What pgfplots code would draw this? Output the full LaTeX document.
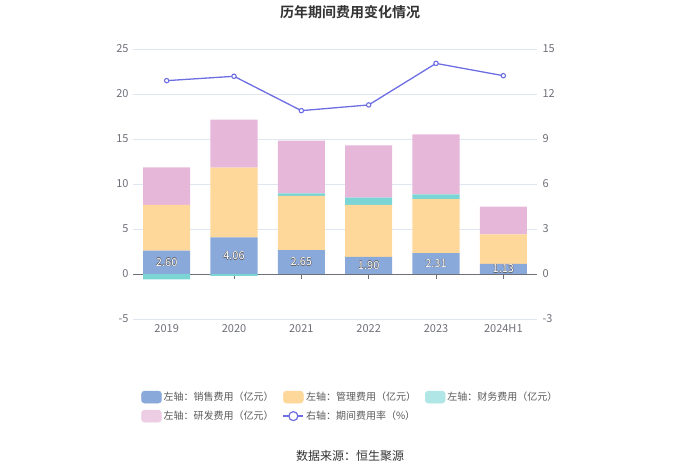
\documentclass[border=0pt]{standalone}
\usepackage{fontspec}
\setmainfont{Noto Sans CJK SC}[BoldFont={Noto Sans CJK SC Bold}]
\usepackage{pgfplots}
\usepackage{pgfplotstable}
\pgfplotsset{compat=1.18}

\definecolor{salesc}{RGB}{138,169,219}
\definecolor{mgmtc}{RGB}{254,216,154}
\definecolor{finc}{RGB}{124,213,213}
\definecolor{rdc}{RGB}{230,183,216}
\definecolor{linec}{RGB}{108,110,226}
\definecolor{gridc}{RGB}{224,230,241}
\definecolor{tickc}{RGB}{110,112,121}
\definecolor{titlec}{RGB}{51,51,51}
\definecolor{legtext}{RGB}{90,90,90}
\definecolor{labdark}{RGB}{95,95,100}

\pgfplotstableread{
x sales mgmt finpos finneg rd rate
0 2.60 5.07 0    -0.59 4.18 12.89
1 4.06 7.75 0    -0.20 5.34 13.18
2 2.65 6.02 0.29 0     5.85 10.89
3 1.90 5.77 0.81 0     5.82 11.27
4 2.31 6.02 0.52 0     6.67 14.04
5 1.13 3.28 0    0     3.07 13.22
}\datatable

\newcommand\halotext[1]{%
\makebox[0pt]{\color{labdark}\kern0.8pt #1}%
\makebox[0pt]{\color{labdark}\kern-0.8pt #1}%
\makebox[0pt]{\color{labdark}\raisebox{0.4pt}{#1}}%
\makebox[0pt]{\color{labdark}\raisebox{-0.4pt}{#1}}%
\makebox[0pt]{\color{white}#1}}

\pgfplotsset{
  common/.style={
    at={(133pt,154pt)}, anchor=south west, scale only axis,
    width=404pt, height=270pt,
    xmin=-0.5, xmax=5.5,
    axis line style={draw=none},
    major tick length=0pt,
    tick label style={font=\fontsize{11}{11}\selectfont, color=tickc},
    /pgf/number format/assume math mode=true,
  }
}

\begin{document}
\begin{tikzpicture}[x=1pt,y=1pt]
\path[use as bounding box] (0,0) rectangle (700,473);

% background axis: grid, left ticks, category labels, zero line, negative finance bars
\begin{axis}[common,
  ymin=-5, ymax=25, ytick={-5,0,...,25},
  ymajorgrids, grid style={color=gridc, line width=0.7pt},
  xtick={0,...,5},
  xticklabels={2019,2020,2021,2022,2023,2024H1},
  yticklabel style={xshift=-1pt},
  xticklabel style={yshift=-2pt},
]
\addplot[sharp plot, color=tickc, line width=0.8pt, forget plot] coordinates {(-0.5,0) (5.5,0)};
\addplot[ycomb, color=tickc, line width=0.7pt, mark=none, forget plot] coordinates {(0,-0.55) (1,-0.55) (2,-0.55) (3,-0.55) (4,-0.55) (5,-0.55)};
\addplot[ybar, bar width=0.7, bar shift=0pt, fill=finc, draw=none, forget plot] table[x=x, y=finneg] {\datatable};
\end{axis}

% stacked bars
\begin{axis}[common,
  ymin=-5, ymax=25,
  ybar stacked, bar width=0.7,
  xtick=\empty, ytick=\empty,
]
\addplot[fill=salesc, draw=none] table[x=x, y=sales] {\datatable};
\addplot[fill=mgmtc, draw=none] table[x=x, y=mgmt] {\datatable};
\addplot[fill=finc, draw=none] table[x=x, y=finpos] {\datatable};
\addplot[fill=rdc, draw=none] table[x=x, y=rd] {\datatable};
\end{axis}

% label axis (unstacked)
\begin{axis}[common,
  ymin=-5, ymax=25,
  xtick=\empty, ytick=\empty,
]
\node[font=\fontsize{11}{11}\selectfont, inner sep=0pt] at (axis cs:0,1.30) {\halotext{2.60}};
\node[font=\fontsize{11}{11}\selectfont, inner sep=0pt] at (axis cs:1,2.03) {\halotext{4.06}};
\node[font=\fontsize{11}{11}\selectfont, inner sep=0pt] at (axis cs:2,1.33) {\halotext{2.65}};
\node[font=\fontsize{11}{11}\selectfont, inner sep=0pt] at (axis cs:3,0.95) {\halotext{1.90}};
\node[font=\fontsize{11}{11}\selectfont, inner sep=0pt] at (axis cs:4,1.16) {\halotext{2.31}};
\node[font=\fontsize{11}{11}\selectfont, inner sep=0pt] at (axis cs:5,0.57) {\halotext{1.13}};
\end{axis}

% right axis with rate line and legend
\begin{axis}[common,
  ymin=-3, ymax=15, ytick={-3,0,...,15},
  axis y line*=right, axis x line=none,
  yticklabel style={xshift=2pt},
  legend columns=3,
  legend cell align=left,
  legend style={at={(0.538,-0.255)}, anchor=north, draw=none, fill=none,
    font=\fontsize{10}{10}\selectfont, text=legtext,
    /tikz/every even column/.append style={column sep=7pt},
    row sep=5pt},
]
\addlegendimage{legend image code/.code={\fill[salesc, rounded corners=3pt] (0pt,-6pt) rectangle (20pt,6pt);}}
\addlegendentry{左轴：销售费用（亿元）}
\addlegendimage{legend image code/.code={\fill[mgmtc, rounded corners=3pt] (0pt,-6pt) rectangle (20pt,6pt);}}
\addlegendentry{左轴：管理费用（亿元）}
\addlegendimage{legend image code/.code={\fill[finc!60!white, rounded corners=3pt] (0pt,-6pt) rectangle (20pt,6pt);}}
\addlegendentry{左轴：财务费用（亿元）}
\addlegendimage{legend image code/.code={\fill[rdc!70!white, rounded corners=3pt] (0pt,-6pt) rectangle (20pt,6pt);}}
\addlegendentry{左轴：研发费用（亿元）}
\addplot[color=linec, line width=1.3pt, mark=*, mark size=2.2pt,
  mark options={fill=white, line width=1.1pt},
  legend image code/.code={\draw[linec, line width=1.3pt] (0pt,0pt) -- (20pt,0pt);
    \draw[linec, fill=white, line width=1.2pt] (10pt,0pt) circle (4.5pt);}]
  table[x=x, y=rate] {\datatable};
\addlegendentry{右轴：期间费用率（\%）}
\end{axis}

\node[font=\bfseries\fontsize{14}{14}\selectfont, text=titlec] at (350,461) {历年期间费用变化情况};
\node[font=\fontsize{12}{12}\selectfont, text=titlec] at (350,17) {数据来源：恒生聚源};
\end{tikzpicture}
\end{document}
